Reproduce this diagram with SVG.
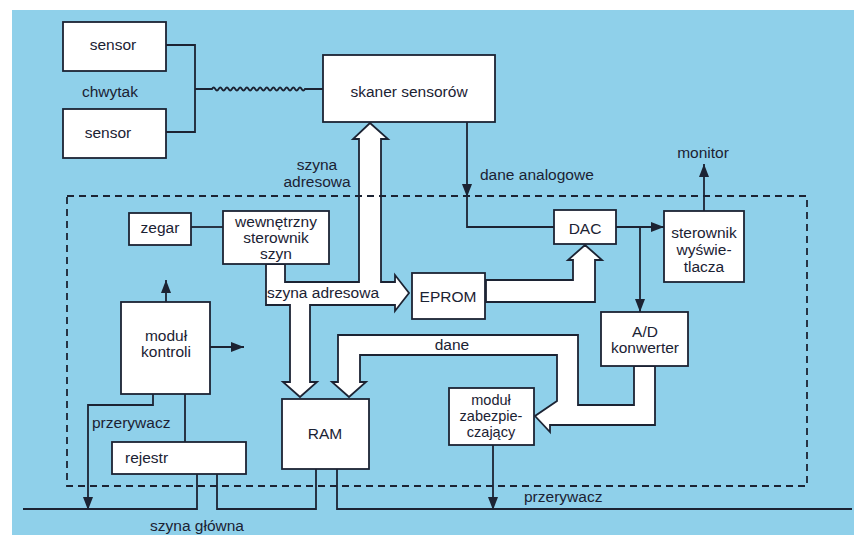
<svg xmlns="http://www.w3.org/2000/svg" width="854" height="535" viewBox="0 0 854 535">
<defs>
<style>
.box{fill:#ffffff;stroke:#1c2333;stroke-width:1.8}
.bus{fill:#ffffff;stroke:#1c2333;stroke-width:1.8;stroke-linejoin:miter}
.ln{fill:none;stroke:#1c2333;stroke-width:1.8}
.dash{fill:none;stroke:#1c2333;stroke-width:1.8;stroke-dasharray:7 5}
text{font-family:"Liberation Sans",Arial,sans-serif;font-size:15.5px;fill:#1b2233}
.c{text-anchor:middle}
.sm{font-size:14.5px}
</style>
<marker id="ah" markerUnits="userSpaceOnUse" markerWidth="14" markerHeight="12" refX="13" refY="5" orient="auto">
<path d="M0,0 L13,5 L0,10 Z" fill="#1c2333"/>
</marker>
</defs>
<rect x="0" y="0" width="854" height="535" fill="#ffffff"/>
<rect x="12" y="10" width="842" height="525" fill="#8fd0ea"/>

<g id="buses">
<polygon class="bus" points="266,264 266,305 290,305 290,382 283,382 300,397 317,382 310,382 310,305 395,305 395,311 409,293 395,275 395,282 381,282 381,139 388,139 370,123 353,139 359,139 359,282 285,282 285,264"/>
<polygon class="bus" points="486,280 573,280 573,260 568,260 585,245 602,260 595,260 595,302 486,302"/>
<polygon class="bus" points="634,366 634,405 578,405 578,335 338,335 338,382 332,382 349,397 366,382 360,382 360,355 557,355 557,401 535,416 550,432 550,425 655,425 655,366"/>
</g>

<g id="connectors">
<polyline class="ln" points="166,45 195,45 195,132 166,132"/>
<path class="ln" d="M195,89 H212 q1.66,-3 3.32,0 t3.32,0 t3.32,0 t3.32,0 t3.32,0 t3.32,0 t3.32,0 t3.32,0 t3.32,0 t3.32,0 t3.32,0 t3.32,0 t3.32,0 t3.32,0 t3.32,0 t3.32,0 t3.32,0 t3.32,0 t3.32,0 t3.32,0 t3.32,0 t3.32,0 t3.32,0 t3.32,0 t3.32,0 t3.32,0 t3.32,0 t3.32,0 H323"/>
<line class="ln" x1="467" y1="122" x2="467" y2="197" marker-end="url(#ah)"/>
<polyline class="ln" points="467,190 467,227 554,227"/>
<line class="ln" x1="616" y1="227" x2="664" y2="227" marker-end="url(#ah)"/>
<line class="ln" x1="640" y1="227" x2="640" y2="312" marker-end="url(#ah)"/>
<line class="ln" x1="704" y1="211" x2="704" y2="164" marker-end="url(#ah)"/>
<line class="ln" x1="191" y1="227" x2="223" y2="227"/>
<line class="ln" x1="166" y1="302" x2="166" y2="280" marker-end="url(#ah)"/>
<line class="ln" x1="210" y1="347" x2="244" y2="347" marker-end="url(#ah)"/>
<line class="ln" x1="185" y1="394" x2="185" y2="442"/>
<polyline class="ln" points="153,394 153,405 88,405 88,510" marker-end="url(#ah)"/>
<polyline class="ln" points="23,509 197,509 197,474"/>
<polyline class="ln" points="217,474 217,509 316,509 316,469"/>
<polyline class="ln" points="337,469 337,509 852,509"/>
<line class="ln" x1="493" y1="445" x2="493" y2="510" marker-end="url(#ah)"/>
</g>

<rect class="dash" x="67" y="196" width="740" height="290"/>

<g id="sensor1"><rect class="box" x="63" y="22" width="103" height="49"/><text class="c" x="113" y="50">sensor</text></g>
<g id="sensor2"><rect class="box" x="63" y="109" width="103" height="49"/><text class="c" x="108" y="138">sensor</text></g>
<g id="skaner"><rect class="box" x="323" y="55" width="172" height="67"/><text class="c" x="409" y="97">skaner sensorów</text></g>
<g id="zegar"><rect class="box" x="129" y="213" width="62" height="32"/><text class="c" x="160" y="233">zegar</text></g>
<g id="wewnetrzny"><rect class="box" x="223" y="211" width="106" height="53"/><text class="c" x="276" y="227">wewnętrzny</text><text class="c" x="276" y="243">sterownik</text><text class="c" x="276" y="259">szyn</text></g>
<g id="eprom"><rect class="box" x="412" y="273" width="73" height="46"/><text class="c" x="448" y="302">EPROM</text></g>
<g id="dac"><rect class="box" x="554" y="210" width="62" height="34"/><text class="c" x="585" y="234">DAC</text></g>
<g id="sterownik"><rect class="box" x="664" y="211" width="80" height="71"/><text class="c" x="704" y="238">sterownik</text><text class="c" x="704" y="255">wyświe-</text><text class="c" x="704" y="272">tlacza</text></g>
<g id="adkonwerter"><rect class="box" x="601" y="312" width="87" height="54"/><text class="c" x="645" y="337">A/D</text><text class="c" x="645" y="353">konwerter</text></g>
<g id="modulkontroli"><rect class="box" x="121" y="302" width="89" height="92"/><text class="c" x="166" y="341">moduł</text><text class="c" x="166" y="357">kontroli</text></g>
<g id="rejestr"><rect class="box" x="112" y="442" width="134" height="32"/><text x="125" y="463">rejestr</text></g>
<g id="ram"><rect class="box" x="282" y="399" width="87" height="70"/><text class="c" x="325" y="439">RAM</text></g>
<g id="modulzabezp"><rect class="box" x="449" y="388" width="85" height="57"/><text class="c sm" x="491" y="405">moduł</text><text class="c sm" x="491" y="421">zabezpie-</text><text class="c sm" x="491" y="437">czający</text></g>

<g id="labels">
<text class="c" x="110" y="97">chwytak</text>
<text class="c" x="317" y="170">szyna</text>
<text class="c" x="317" y="187">adresowa</text>
<text x="480" y="180">dane analogowe</text>
<text class="c" x="703" y="158">monitor</text>
<text x="267" y="298">szyna adresowa</text>
<text class="c" x="452" y="350">dane</text>
<text x="92" y="428">przerywacz</text>
<text x="524" y="502">przerywacz</text>
<text class="c" x="197" y="531">szyna główna</text>
</g>
</svg>
